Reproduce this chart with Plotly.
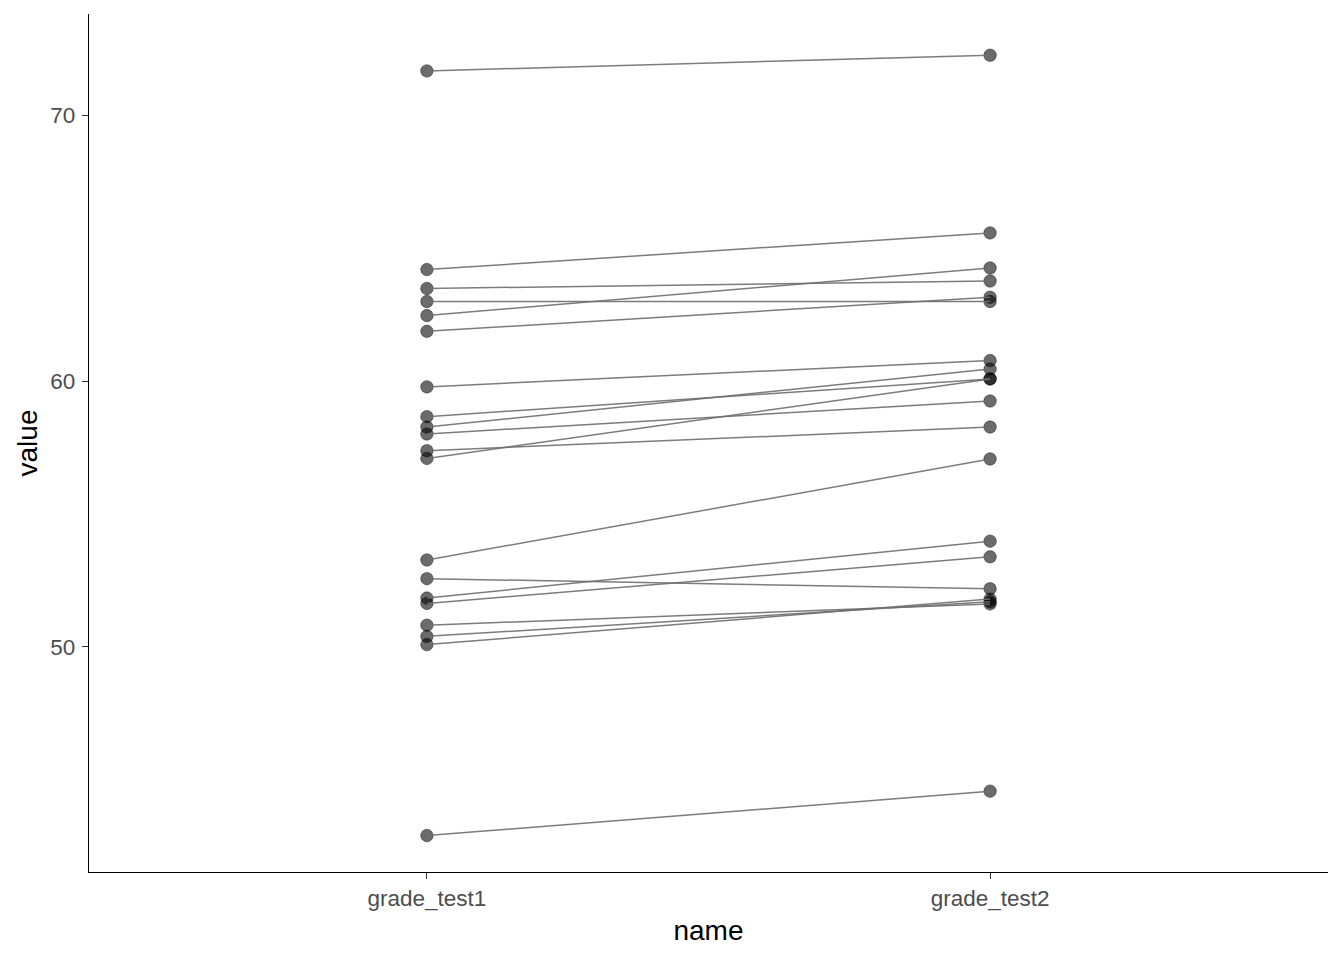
import plotly.graph_objects as go

categories = ["grade_test1", "grade_test2"]
grade_test1 = [71.66, 64.19, 63.48, 62.99, 62.46, 61.87, 59.78, 58.66, 58.27, 58.01,
               57.38, 57.09, 53.27, 52.57, 51.84, 51.64, 50.82, 50.40, 50.09, 42.91]
grade_test2 = [72.25, 65.57, 63.76, 62.99, 64.25, 63.15, 60.77, 60.08, 60.45, 59.25,
               58.27, 60.08, 57.07, 52.19, 53.98, 53.39, 51.62, 51.70, 51.80, 44.58]
y_ticks = [50, 60, 70]

xpos = [1, 2]

# points
px, py = [], []
for a, b in zip(grade_test1, grade_test2):
    px += [xpos[0], xpos[1]]
    py += [a, b]

# lines (with gaps)
lx, ly = [], []
for a, b in zip(grade_test1, grade_test2):
    lx += [xpos[0], xpos[1], None]
    ly += [a, b, None]

fig = go.Figure()
fig.add_trace(go.Scatter(
    x=px, y=py, mode="markers",
    marker=dict(size=12.5, color="rgba(0,0,0,0.58)",
                line=dict(width=1, color="rgba(0,0,0,0.4)")),
    hoverinfo="skip", showlegend=False))
fig.add_trace(go.Scatter(
    x=lx, y=ly, mode="lines",
    line=dict(color="rgba(110,110,110,0.9)", width=1.5),
    hoverinfo="skip", showlegend=False))

fig.update_layout(
    width=1344, height=960,
    margin=dict(l=89, r=16, t=14, b=88),
    plot_bgcolor="white", paper_bgcolor="white",
    font=dict(family="Liberation Sans, Arial, sans-serif"),
    showlegend=False,
)
fig.update_xaxes(
    range=[0.4, 2.6], tickmode="array", tickvals=xpos, ticktext=categories,
    showgrid=False, zeroline=False, showline=True, linecolor="black", linewidth=1.3,
    ticks="outside", ticklen=6, tickwidth=1.1, tickcolor="#333333",
    ticklabelstandoff=0,
    tickfont=dict(size=22.5, color="#4d4d4d"),
    title=dict(text="name", font=dict(size=28, color="black"), standoff=10),
)
fig.update_yaxes(
    range=[41.54, 73.80], tickmode="array", tickvals=y_ticks,
    showgrid=False, zeroline=False, showline=True, linecolor="black", linewidth=1.3,
    ticks="outside", ticklen=6, tickwidth=1.1, tickcolor="#333333",
    ticklabelstandoff=2,
    tickfont=dict(size=22.5, color="#4d4d4d"),
    title=dict(text="value", font=dict(size=28, color="black"), standoff=4),
)

fig.write_html("out.html", config={"displayModeBar": False},
               post_script="document.body.style.margin='0px';")
